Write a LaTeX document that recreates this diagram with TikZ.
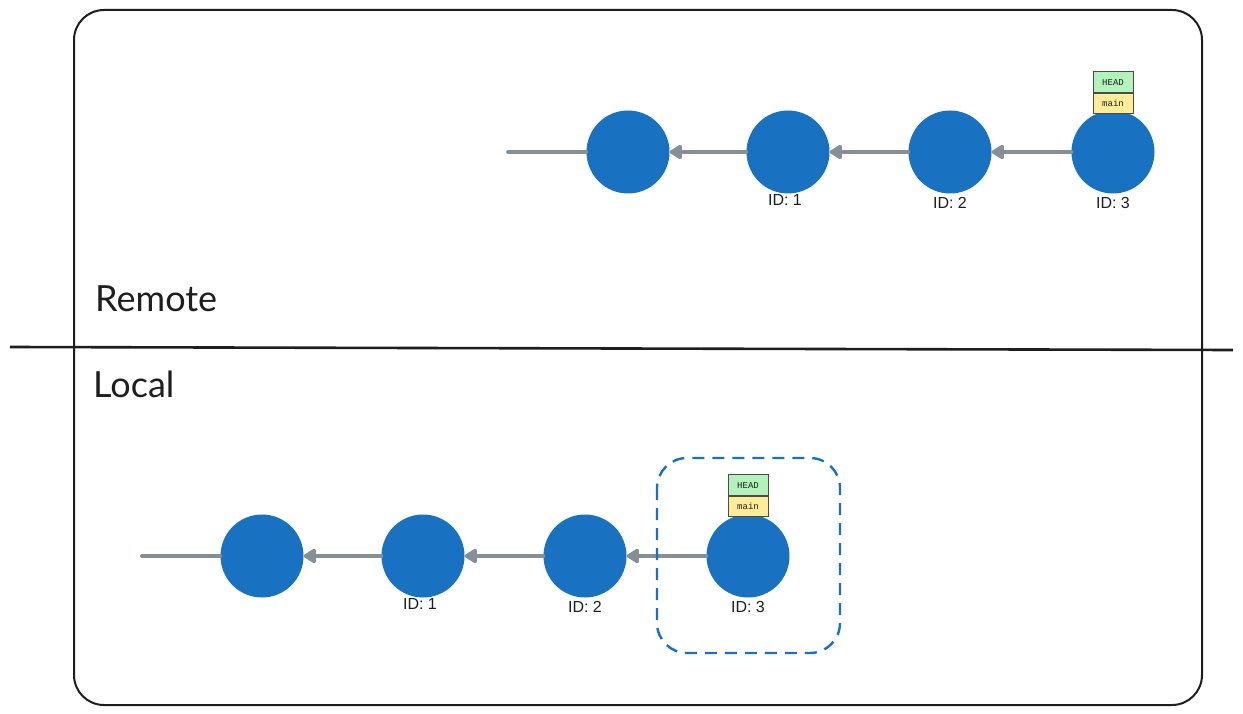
\documentclass[tikz,border=0pt]{standalone}
\usepackage{fontspec}
\setmainfont{Liberation Sans}
\newfontfamily\handfont{Lato}
\newfontfamily\monofont{Liberation Mono}
\usetikzlibrary{arrows.meta}
\definecolor{commitblue}{HTML}{1971C2}
\definecolor{linegray}{HTML}{868E96}
\definecolor{headgreen}{HTML}{B2F2BB}
\definecolor{mainyellow}{HTML}{FFEC99}
\definecolor{ink}{HTML}{1E1E1E}
\tikzset{
  commit/.style={circle, fill=commitblue, draw=none, minimum size=83pt, inner sep=0pt},
  idlabel/.style={anchor=north, inner sep=0pt, font=\fontsize{16}{16}\selectfont, text=ink},
  link/.style={draw=linegray, line width=4pt, line cap=round, -{Triangle[length=14pt,width=16pt,round]}},
  tail/.style={draw=linegray, line width=4pt, line cap=round},
  tagbox/.style={draw=ink!80, line width=0.8pt, minimum width=40pt, minimum height=20.5pt, inner sep=0pt, font=\monofont\fontsize{9}{9}\selectfont, text=ink},
  areatext/.style={anchor=base west, inner sep=0pt, font=\handfont\fontsize{36}{36}\selectfont, text=ink},
  frame/.style={draw=ink, line width=2pt, rounded corners=30pt},
  divider/.style={draw=ink, line width=2.6pt},
  focus/.style={draw=commitblue, line width=2.4pt, dash pattern=on 12pt off 8pt, rounded corners=30pt}
}
\begin{document}
\begin{tikzpicture}[x=1pt,y=-1pt]
\useasboundingbox (0,0) rectangle (1243,714);
\fill[white] (0,0) rectangle (1243,714);

\draw[frame] (74,10) rectangle (1202,705);
\coordinate (dl) at (10,347);
\coordinate (dr) at (1233,350);
\draw[divider] (dl) -- (dr);

\node[areatext] (remote) at (95,312) {Remote};
\node[areatext] (local) at (93,397) {Local};

% Remote
\coordinate (rs) at (508,152);
\node[commit] (r0) at (628,152) {};
\node[commit] (r1) at (788,152) {};
\node[commit] (r2) at (950,152) {};
\node[commit] (r3) at (1113,152) {};
\draw[tail] (rs) -- (r0.west);
\draw[link] (r1) -- (r0);
\draw[link] (r2) -- (r1);
\draw[link] (r3) -- (r2);
\node[idlabel] (r1id) at ([yshift=-1pt,xshift=-3pt]r1.south) {ID: 1};
\node[idlabel] (r2id) at ([yshift=-3pt]r2.south) {ID: 2};
\node[idlabel] (r3id) at ([yshift=-3pt]r3.south) {ID: 3};
\node[tagbox, fill=mainyellow, anchor=south] (rmain) at (1113,114) {main};
\node[tagbox, fill=headgreen, anchor=south] (rhead) at (rmain.north) {HEAD};

% Local
\coordinate (ls) at (142,556);
\node[commit] (l0) at (262,556) {};
\node[commit] (l1) at (423,556) {};
\node[commit] (l2) at (585,556) {};
\node[commit] (l3) at (748,556) {};
\draw[tail] (ls) -- (l0.west);
\draw[link] (l1) -- (l0);
\draw[link] (l2) -- (l1);
\draw[link] (l3) -- (l2);
\node[idlabel] (l1id) at ([yshift=-1pt,xshift=-3pt]l1.south) {ID: 1};
\node[idlabel] (l2id) at ([yshift=-3pt]l2.south) {ID: 2};
\node[idlabel] (l3id) at ([yshift=-3pt]l3.south) {ID: 3};
\node[tagbox, fill=mainyellow, anchor=south] (lmain) at (748,517) {main};
\node[tagbox, fill=headgreen, anchor=south] (lhead) at (lmain.north) {HEAD};

\draw[focus] (657,458) rectangle (840,653);
\end{tikzpicture}
\end{document}
